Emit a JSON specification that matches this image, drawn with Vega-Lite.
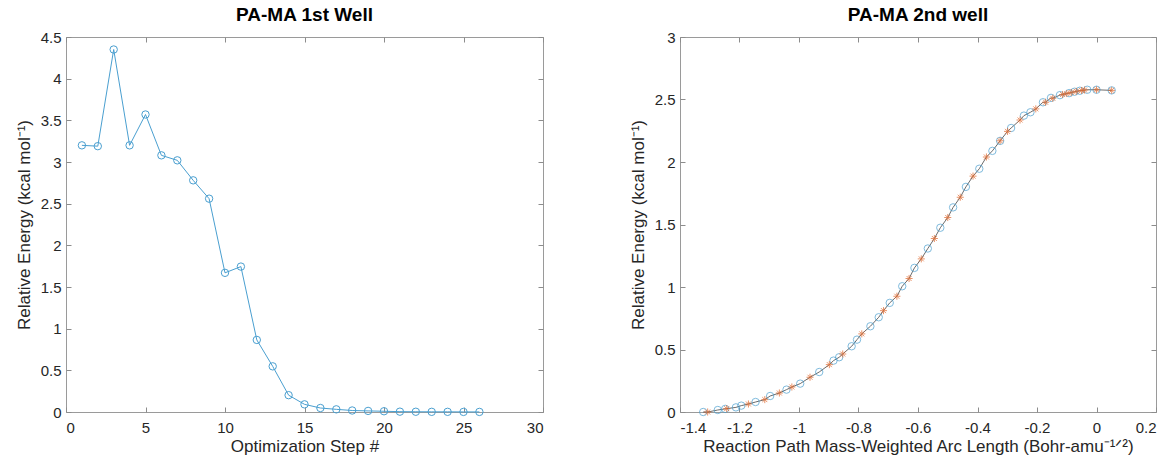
{
  "$schema": "https://vega.github.io/schema/vega-lite/v6.json",
  "background": "white",
  "padding": {"left": 14, "top": 5, "right": 2, "bottom": 2},
  "spacing": 137,
  "bounds": "flush",
  "config": {
    "font": "Liberation Sans",
    "view": {"stroke": "#9a9a9a", "strokeWidth": 1},
    "axis": {
      "labelFont": "Liberation Sans", "labelFontSize": 15, "labelColor": "#262626",
      "titleFont": "Liberation Sans", "titleFontSize": 17, "titleColor": "#262626", "titleFontWeight": "normal",
      "grid": false, "domain": false, "tickColor": "#8c8c8c", "tickSize": -5, "labelPadding": 10
    },
    "axisX": {"labelPadding": 13, "titlePadding": 3},
    "axisY": {"titlePadding": 7},
    "title": {"font": "Liberation Sans", "fontSize": 19, "fontWeight": "bold", "color": "#000000", "offset": 5}
  },
  "datasets": {
    "well1": [
      {"step": 1, "energy": 3.2}, {"step": 2, "energy": 3.19}, {"step": 3, "energy": 4.35},
      {"step": 4, "energy": 3.2}, {"step": 5, "energy": 3.57}, {"step": 6, "energy": 3.08},
      {"step": 7, "energy": 3.02}, {"step": 8, "energy": 2.78}, {"step": 9, "energy": 2.56},
      {"step": 10, "energy": 1.67}, {"step": 11, "energy": 1.745}, {"step": 12, "energy": 0.865},
      {"step": 13, "energy": 0.548}, {"step": 14, "energy": 0.202}, {"step": 15, "energy": 0.092},
      {"step": 16, "energy": 0.048}, {"step": 17, "energy": 0.032}, {"step": 18, "energy": 0.018},
      {"step": 19, "energy": 0.013}, {"step": 20, "energy": 0.009}, {"step": 21, "energy": 0.004},
      {"step": 22, "energy": 0.003}, {"step": 23, "energy": 0.002}, {"step": 24, "energy": 0.002},
      {"step": 25, "energy": 0.001}, {"step": 26, "energy": 0.001}
    ],
    "well2": [
      {"s": -1.322, "e": 0.0, "series": "circle"},
      {"s": -1.273, "e": 0.016, "series": "circle"},
      {"s": -1.248, "e": 0.025, "series": "circle"},
      {"s": -1.212, "e": 0.037, "series": "circle"},
      {"s": -1.194, "e": 0.051, "series": "circle"},
      {"s": -1.146, "e": 0.08, "series": "circle"},
      {"s": -1.097, "e": 0.128, "series": "circle"},
      {"s": -1.042, "e": 0.179, "series": "circle"},
      {"s": -0.996, "e": 0.227, "series": "circle"},
      {"s": -0.932, "e": 0.32, "series": "circle"},
      {"s": -0.884, "e": 0.411, "series": "circle"},
      {"s": -0.865, "e": 0.438, "series": "circle"},
      {"s": -0.823, "e": 0.526, "series": "circle"},
      {"s": -0.805, "e": 0.579, "series": "circle"},
      {"s": -0.76, "e": 0.686, "series": "circle"},
      {"s": -0.732, "e": 0.758, "series": "circle"},
      {"s": -0.695, "e": 0.873, "series": "circle"},
      {"s": -0.653, "e": 1.006, "series": "circle"},
      {"s": -0.612, "e": 1.153, "series": "circle"},
      {"s": -0.567, "e": 1.308, "series": "circle"},
      {"s": -0.525, "e": 1.474, "series": "circle"},
      {"s": -0.482, "e": 1.637, "series": "circle"},
      {"s": -0.439, "e": 1.801, "series": "circle"},
      {"s": -0.394, "e": 1.946, "series": "circle"},
      {"s": -0.35, "e": 2.089, "series": "circle"},
      {"s": -0.324, "e": 2.169, "series": "circle"},
      {"s": -0.287, "e": 2.272, "series": "circle"},
      {"s": -0.244, "e": 2.371, "series": "circle"},
      {"s": -0.222, "e": 2.398, "series": "circle"},
      {"s": -0.18, "e": 2.478, "series": "circle"},
      {"s": -0.153, "e": 2.513, "series": "circle"},
      {"s": -0.123, "e": 2.535, "series": "circle"},
      {"s": -0.092, "e": 2.551, "series": "circle"},
      {"s": -0.074, "e": 2.562, "series": "circle"},
      {"s": -0.056, "e": 2.57, "series": "circle"},
      {"s": -0.031, "e": 2.578, "series": "circle"},
      {"s": 0.0, "e": 2.578, "series": "circle"},
      {"s": 0.051, "e": 2.573, "series": "circle"},
      {"s": -1.307, "e": 0.0, "series": "star"},
      {"s": -1.243, "e": 0.027, "series": "star"},
      {"s": -1.17, "e": 0.064, "series": "star"},
      {"s": -1.115, "e": 0.099, "series": "star"},
      {"s": -1.066, "e": 0.152, "series": "star"},
      {"s": -1.024, "e": 0.2, "series": "star"},
      {"s": -0.963, "e": 0.278, "series": "star"},
      {"s": -0.898, "e": 0.379, "series": "star"},
      {"s": -0.853, "e": 0.464, "series": "star"},
      {"s": -0.789, "e": 0.625, "series": "star"},
      {"s": -0.716, "e": 0.811, "series": "star"},
      {"s": -0.671, "e": 0.926, "series": "star"},
      {"s": -0.63, "e": 1.068, "series": "star"},
      {"s": -0.589, "e": 1.225, "series": "star"},
      {"s": -0.545, "e": 1.388, "series": "star"},
      {"s": -0.5, "e": 1.556, "series": "star"},
      {"s": -0.458, "e": 1.718, "series": "star"},
      {"s": -0.415, "e": 1.887, "series": "star"},
      {"s": -0.37, "e": 2.04, "series": "star"},
      {"s": -0.324, "e": 2.17, "series": "star"},
      {"s": -0.299, "e": 2.245, "series": "star"},
      {"s": -0.257, "e": 2.336, "series": "star"},
      {"s": -0.204, "e": 2.425, "series": "star"},
      {"s": -0.171, "e": 2.478, "series": "star"},
      {"s": -0.147, "e": 2.51, "series": "star"},
      {"s": -0.114, "e": 2.54, "series": "star"},
      {"s": -0.1, "e": 2.548, "series": "star"},
      {"s": -0.085, "e": 2.556, "series": "star"},
      {"s": -0.068, "e": 2.565, "series": "star"},
      {"s": -0.05, "e": 2.572, "series": "star"},
      {"s": -0.04, "e": 2.576, "series": "star"},
      {"s": 0.0, "e": 2.578, "series": "star"},
      {"s": 0.051, "e": 2.573, "series": "star"}
    ]
  },
  "hconcat": [
    {
      "title": "PA-MA 1st Well",
      "width": 477,
      "height": 375,
      "data": {"name": "well1"},
      "layer": [
        {
          "mark": {"type": "line", "color": "#4a9fd0", "strokeWidth": 1,
                   "point": {"filled": false, "shape": "circle", "size": 55, "stroke": "#4a9fd0", "strokeWidth": 1}},
          "encoding": {
            "x": {"field": "step", "type": "quantitative",
                  "scale": {"domain": [0, 30], "nice": false, "zero": false},
                  "axis": {"title": "Optimization Step #", "values": [0, 5, 10, 15, 20, 25, 30]}},
            "y": {"field": "energy", "type": "quantitative",
                  "scale": {"domain": [0, 4.5], "nice": false},
                  "axis": {"title": "Relative Energy (kcal mol⁻¹)", "values": [0, 0.5, 1, 1.5, 2, 2.5, 3, 3.5, 4, 4.5], "labelExpr": "'' + datum.value"}}
          }
        },
        {
          "mark": {"type": "point", "opacity": 0},
          "encoding": {
            "x": {"field": "step", "type": "quantitative",
                  "axis": {"orient": "top", "labels": false, "title": null, "values": [0, 5, 10, 15, 20, 25, 30]}},
            "y": {"field": "energy", "type": "quantitative",
                  "axis": {"orient": "right", "labels": false, "title": null, "values": [0, 0.5, 1, 1.5, 2, 2.5, 3, 3.5, 4, 4.5]}}
          }
        }
      ],
      "resolve": {"axis": {"x": "independent", "y": "independent"}}
    },
    {
      "title": "PA-MA 2nd well",
      "width": 476,
      "height": 375,
      "data": {"name": "well2"},
      "layer": [
        {
          "mark": {"type": "line", "color": "#5a5a5a", "strokeWidth": 0.9},
          "encoding": {
            "x": {"field": "s", "type": "quantitative",
                  "scale": {"domain": [-1.4, 0.2], "nice": false, "zero": false},
                  "axis": {"title": "Reaction Path Mass-Weighted Arc Length (Bohr-amu⁻¹ᐟ²)", "values": [-1.4, -1.2, -1, -0.8, -0.6, -0.4, -0.2, 0, 0.2], "labelExpr": "'' + datum.value"}},
            "y": {"field": "e", "type": "quantitative",
                  "scale": {"domain": [0, 3], "nice": false},
                  "axis": {"title": "Relative Energy (kcal mol⁻¹)", "values": [0, 0.5, 1, 1.5, 2, 2.5, 3], "labelExpr": "'' + datum.value"}},
            "order": {"field": "s", "type": "quantitative"}
          }
        },
        {
          "transform": [{"filter": "datum.series === 'circle'"}],
          "mark": {"type": "point", "shape": "circle", "filled": false, "size": 55, "stroke": "#4a9fd0", "strokeWidth": 1},
          "encoding": {
            "x": {"field": "s", "type": "quantitative",
                  "axis": {"orient": "top", "labels": false, "title": null, "values": [-1.4, -1.2, -1, -0.8, -0.6, -0.4, -0.2, 0, 0.2]}},
            "y": {"field": "e", "type": "quantitative",
                  "axis": {"orient": "right", "labels": false, "title": null, "values": [0, 0.5, 1, 1.5, 2, 2.5, 3]}}
          }
        },
        {
          "transform": [{"filter": "datum.series === 'star'"}],
          "mark": {"type": "point", "shape": "M-1,0L1,0M0,-1L0,1M-0.7,-0.7L0.7,0.7M-0.7,0.7L0.7,-0.7", "filled": false, "size": 50, "stroke": "#e0662a", "strokeWidth": 1},
          "encoding": {
            "x": {"field": "s", "type": "quantitative", "axis": null},
            "y": {"field": "e", "type": "quantitative", "axis": null}
          }
        }
      ],
      "resolve": {"axis": {"x": "independent", "y": "independent"}}
    }
  ]
}
